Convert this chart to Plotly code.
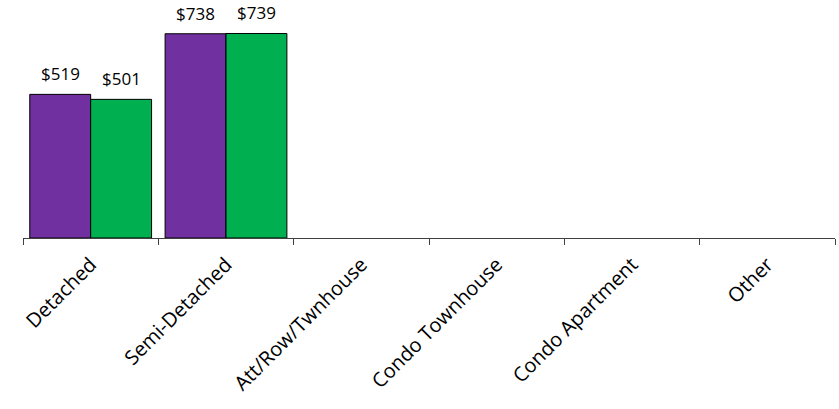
import plotly.graph_objects as go

categories = ["Detached", "Semi-Detached", "Att/Row/Twnhouse", "Condo Townhouse", "Condo Apartment", "Other"]
series_a = [519, 738, None, None, None, None]
series_b = [501, 739, None, None, None, None]
labels_a = ["$519", "$738", "", "", "", ""]
labels_b = ["$501", "$739", "", "", "", ""]

FONT = "Open Sans"
fig = go.Figure()
fig.add_trace(go.Bar(x=categories, y=series_a, marker=dict(color="#7030A0", line=dict(color="black", width=1)),
                     name="A", hoverinfo="skip"))
fig.add_trace(go.Bar(x=categories, y=series_b, marker=dict(color="#00B050", line=dict(color="black", width=1)),
                     name="B", hoverinfo="skip"))

W, H = 839, 409
ml, mr, mt, mb = 23, 4, 0, 171
cat_w = (W - ml - mr) / len(categories)
bar_w = cat_w * 0.9 / 2

annotations = []
for cat, v, t in zip(categories, series_a, labels_a):
    if v is not None:
        annotations.append(dict(x=cat, y=v, text=t, xref="x", yref="y", showarrow=False,
                                xshift=-bar_w / 2, yshift=7, yanchor="bottom",
                                font=dict(family=FONT, size=17, color="black")))
for cat, v, t in zip(categories, series_b, labels_b):
    if v is not None:
        annotations.append(dict(x=cat, y=v, text=t, xref="x", yref="y", showarrow=False,
                                xshift=bar_w / 2, yshift=7, yanchor="bottom",
                                font=dict(family=FONT, size=17, color="black")))

fig.update_layout(
    width=W, height=H,
    margin=dict(l=ml, r=mr, t=mt, b=mb),
    paper_bgcolor="white", plot_bgcolor="white",
    barmode="group", bargap=0.1, bargroupgap=0,
    showlegend=False,
    annotations=annotations,
    font=dict(family=FONT, color="black"),
    xaxis=dict(
        type="category", tickangle=-45, tickson="boundaries",
        ticks="outside", ticklen=6, tickcolor="#404040", tickwidth=1,
        showline=True, linecolor="#404040", linewidth=1,
        showgrid=False, tickfont=dict(family=FONT, size=20, color="black"),
        ticklabelstandoff=6,
        range=[-0.5, 5.5], automargin=False,
    ),
    yaxis=dict(range=[0, 860], visible=False, showgrid=False, zeroline=False),
)

fig.write_html("out.html", config={"displayModeBar": False},
               post_script="document.body.style.margin='0px';")
